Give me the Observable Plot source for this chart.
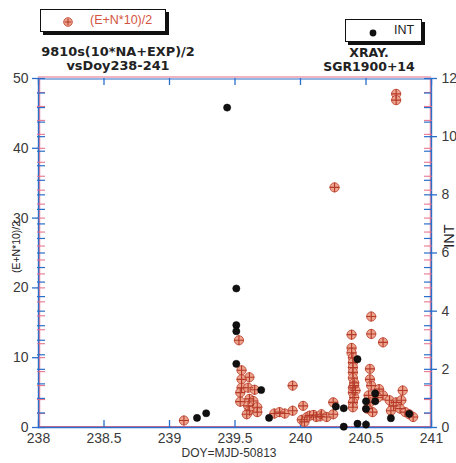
<!DOCTYPE html>
<html><head><meta charset="utf-8">
<script src="https://cdn.jsdelivr.net/npm/d3@7"></script>
<script src="https://cdn.jsdelivr.net/npm/@observablehq/plot@0.6"></script>
<style>
body{margin:0;background:#fff;font-family:"Liberation Sans",Arial,Helvetica,sans-serif;}
#wrap{position:relative;width:456px;height:463px;overflow:hidden;}
#wrap svg.plot{position:absolute;left:0;top:0;}
.ov{position:absolute;white-space:nowrap;}
.ttl{font-family:"DejaVu Sans",sans-serif;font-weight:bold;font-size:12.9px;color:#222;text-align:center;line-height:13.5px;}
.box{border:1.5px solid #111;box-shadow:3px 3px 0 #111;background:#fff;font-size:12.5px;}
</style>
</head><body>
<div id="wrap"></div>
<script>
// ---- data ----
const redDay = [239.11,239.53,239.55,239.61,239.55,239.55,239.60,239.65,239.54,239.61,239.54,239.64,239.60,239.67,239.61,239.67,239.59,
  239.94,239.80,239.84,239.88,239.94,240.02,240.01,240.03,240.05,240.07,240.10,240.12,240.15,240.16,240.20,240.25,240.25,240.26,
  240.39,240.39,240.39,240.40,240.40,240.40,240.40,240.40,240.41,240.40,240.40,240.41,240.40,240.41,240.42,240.40,
  240.54,240.54,240.63,240.53,240.53,240.54,240.52,240.60,240.63,240.59,240.53,240.51,240.55,
  240.78,240.68,240.71,240.73,240.77,240.69,240.76,240.80,240.83,240.86,240.73,240.73];
const redVal = [1.0,12.5,8.2,7.2,6.9,5.7,5.7,5.4,5.0,4.1,3.7,3.8,3.1,2.9,2.4,2.2,1.9,
  6.0,2.0,2.2,2.0,2.4,3.1,1.1,0.8,1.5,1.7,1.8,1.5,1.6,1.9,1.5,3.6,1.9,34.4,
  13.3,11.4,10.7,10.0,9.3,8.6,7.9,7.1,6.4,5.7,5.0,4.3,3.6,6.0,5.3,2.9,
  15.9,13.4,12.2,8.4,6.9,6.0,4.6,5.5,4.6,4.3,3.6,2.7,2.2,
  5.3,3.9,3.1,3.6,3.9,2.4,2.7,2.2,1.9,1.5,47.8,46.9];
const intDay = [239.21,239.28,239.44,239.51,239.51,239.51,239.51,239.70,239.76,240.27,240.33,240.33,240.435,240.435,240.50,240.50,240.50,240.57,240.57,240.69,240.83];
const intVal = [0.33,0.49,11.0,4.78,3.52,3.31,2.19,1.29,0.33,0.72,0.66,0.03,2.35,0.13,0.10,0.90,0.64,1.17,0.90,0.32,0.47];

const xTicks = [238,238.5,239,239.5,240,240.5,241];
const xTickLabels = ["238","238.5","239","239.5","240","240.5","241"];
const leftTicks = [0,10,20,30,40,50];
const rightTicks = [0,2,4,6,8,10,12];
const leftMax = 50, rightMax = 12;

const titleLeft = ["9810s(10*NA+EXP)/2","vsDoy238-241"];
const titleRight = ["XRAY.","SGR1900+14"];
const legendRed = "(E+N*10)/2";
const legendInt = "INT";
const yLabelLeft = "(E+N*10)/2";
const yLabelRight = "INT";
const xLabel = "DOY=MJD-50813";

// ---- build ----
const red = redDay.map((d,i)=>({d, v: redVal[i]}));
const ints = intDay.map((d,i)=>({d, v: intVal[i], y: intVal[i]*leftMax/rightMax}));

const W = 456, H = 463, mL = 38, mR = 25, mT = 78, mB = 36;
const fW = W - mL - mR, fH = H - mT - mB;
const BLUE = "#2a6fc9", RED = "#e46a86";

const minorL = d3.range(0, leftMax + 0.001, 2);           // red-plot ticks (left units)
const minorR = d3.range(0, rightMax + 0.001, 0.5).map(v => v*leftMax/rightMax); // blue-plot ticks
const xMinor = d3.range(238, 241.001, 0.5);
const rightMajorPos = rightTicks.map(v=>v*leftMax/rightMax);

const tickFont = {fontSize: 14, fill: "#3a3a3a"};

const chart = Plot.plot({
  width: W, height: H,
  marginLeft: mL, marginRight: mR, marginTop: mT, marginBottom: mB,
  style: {fontFamily: '"Liberation Sans",Arial,Helvetica,sans-serif', background: "#fff", overflow: "visible"},
  x: {domain: [238, 241]},
  y: {domain: [0, leftMax]},
  marks: [
    // frame lines (two overlaid plots: red and blue)
    Plot.ruleY([leftMax], {stroke: RED, strokeWidth: 1.2, dy: -1.5}),
    Plot.ruleY([leftMax], {stroke: BLUE, strokeWidth: 1.2, dy: 0.5}),
    Plot.ruleY([0], {stroke: RED, strokeWidth: 1.1, dy: -1}),
    Plot.ruleY([0], {stroke: BLUE, strokeWidth: 1.4}),
    Plot.ruleX([238], {stroke: RED, strokeWidth: 1, dx: 1.2}),
    Plot.ruleX([238], {stroke: BLUE, strokeWidth: 1.4}),
    Plot.ruleX([241], {stroke: RED, strokeWidth: 1, dx: -1.2}),
    Plot.ruleX([241], {stroke: BLUE, strokeWidth: 1.4}),
    // left ticks: majors outward, minors inward
    Plot.tickY(minorL, {y: d=>d, stroke: RED, strokeWidth: 1, insetRight: fW - 8, dx: -1}),
    Plot.tickY(minorR, {y: d=>d, stroke: BLUE, strokeWidth: 1.2, insetRight: fW - 8, dx: -1}),
    Plot.tickY(leftTicks, {y: d=>d, stroke: BLUE, strokeWidth: 1.3, insetRight: fW - 7, dx: -6}),
    // right ticks: mirrored
    Plot.tickY(minorL, {y: d=>d, stroke: RED, strokeWidth: 1, insetLeft: fW - 8, dx: 1}),
    Plot.tickY(minorR, {y: d=>d, stroke: BLUE, strokeWidth: 1.2, insetLeft: fW - 8, dx: 1}),
    Plot.tickY(rightMajorPos, {y: d=>d, stroke: BLUE, strokeWidth: 1.3, insetLeft: fW - 7, dx: 6}),
    // top/bottom ticks (inward)
    Plot.tickX(xMinor, {x: d=>d, stroke: BLUE, strokeWidth: 1.3, insetBottom: fH - 7}),
    Plot.tickX(xMinor, {x: d=>d, stroke: BLUE, strokeWidth: 1.3, insetTop: fH - 7}),
    // axes labels
    Plot.axisY({anchor: "left", ticks: leftTicks, tickSize: 0, tickPadding: 10, ...tickFont, label: null}),
    Plot.axisY({anchor: "right", ticks: rightMajorPos, tickFormat: d => String(Math.round(d*rightMax/leftMax)),
                tickSize: 0, tickPadding: 10, ...tickFont, label: null}),
    Plot.axisX({anchor: "bottom", ticks: xTicks, tickFormat: (d) => xTickLabels[xTicks.indexOf(d)], tickSize: 0, tickPadding: 6, ...tickFont, label: null}),
    // data: red (E+N*10)/2
    Plot.dot(red, {x: "d", y: "v", r: 4.6, fill: "#eda48e", stroke: "#c04a36", strokeWidth: 0.9}),
    Plot.dot(red, {x: "d", y: "v", r: 3.3, symbol: "plus", stroke: "#b53a28", strokeWidth: 1.1}),
    // data: INT (black)
    Plot.dot(ints, {x: "d", y: "y", r: 3.6, fill: "#111", stroke: "#000", strokeWidth: 0.5})
  ]
});
chart.classList.add("plot");
const wrap = document.getElementById("wrap");
wrap.appendChild(chart);

function addDiv(html, css, cls) {
  const el = document.createElement("div");
  el.className = "ov " + (cls || "");
  el.innerHTML = html;
  Object.assign(el.style, css);
  wrap.appendChild(el);
  return el;
}
// legend boxes
const redMarker = '<svg width="12" height="12" style="vertical-align:middle"><circle cx="6" cy="6" r="4.3" fill="#eda48e" stroke="#c04a36" stroke-width="0.9"/><path d="M6 2.8V9.2M2.8 6H9.2" stroke="#b53a28" stroke-width="1.1"/></svg>';
addDiv('<span style="position:absolute;left:21px;top:4px">' + redMarker + '</span><span style="position:absolute;left:49px;top:3px;color:#d4553f">' + legendRed + '</span>',
  {left: "40px", top: "9px", width: "124px", height: "21px"}, "box");
const blackMarker = '<svg width="10" height="10" style="vertical-align:middle"><circle cx="5" cy="5" r="3.4" fill="#111"/></svg>';
addDiv('<span style="position:absolute;left:22px;top:5px">' + blackMarker + '</span><span style="position:absolute;left:48px;top:3px;color:#222">' + legendInt + '</span>',
  {left: "345px", top: "19px", width: "75px", height: "21px"}, "box");
// titles
addDiv(titleLeft.join("<br>"), {left: "18px", width: "200px", top: "45px"}, "ttl");
addDiv(titleRight.join("<br>"), {left: "269px", width: "200px", top: "46px", fontSize: "12.5px"}, "ttl");
// axis titles
addDiv(yLabelLeft, {left: "16px", top: "247px", fontSize: "10.5px", color: "#222", transform: "translate(-50%,-50%) rotate(-90deg)"});
addDiv(yLabelRight, {left: "449px", top: "236px", fontSize: "14.5px", color: "#222", transform: "translate(-50%,-50%) rotate(-90deg)"});
addDiv(xLabel, {left: "229px", top: "453px", fontSize: "12px", color: "#333", transform: "translate(-50%,-50%)"});
</script>
</body></html>
